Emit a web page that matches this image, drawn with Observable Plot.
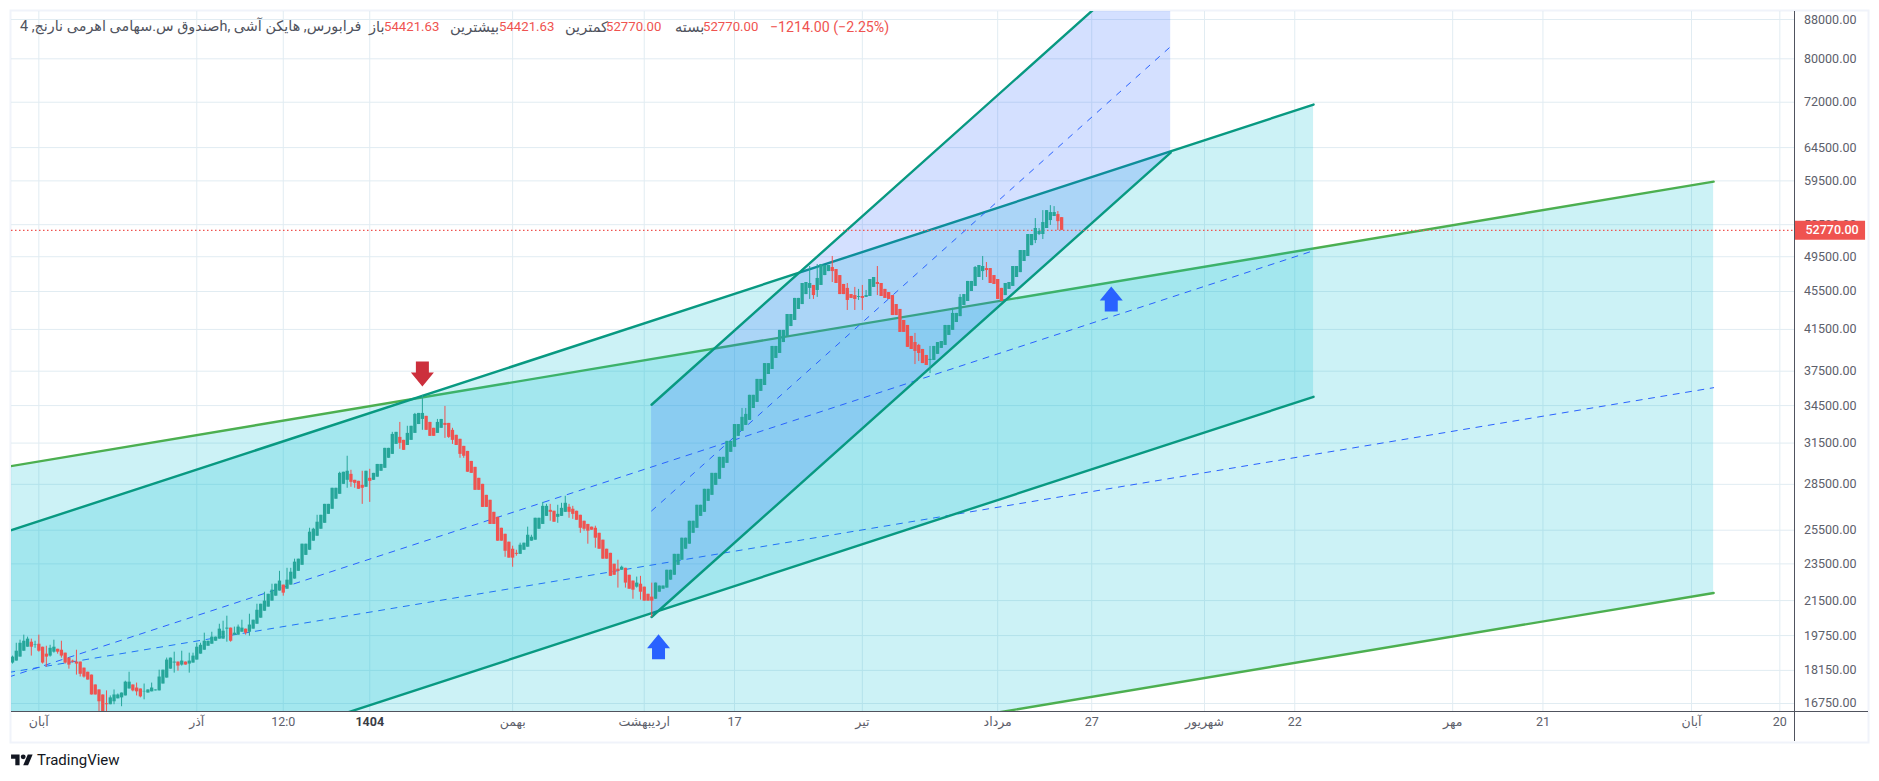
<!DOCTYPE html>
<html lang="fa">
<head>
<meta charset="utf-8">
<title>Chart</title>
<script src="https://cdn.jsdelivr.net/npm/d3@7"></script>
<script src="https://cdn.jsdelivr.net/npm/@observablehq/plot@0.6"></script>
<style>
  html, body { margin: 0; padding: 0; background: #fff; overflow: hidden; }
  #wrap { position: relative; width: 1879px; height: 781px; font-family: Roboto, "Noto Sans", "DejaVu Sans", sans-serif; }
  #legend { position: absolute; left: 0; top: 18px; height: 18px; width: 900px; font-size: 13.2px; line-height: 18px; white-space: nowrap; }
  #legend span { position: absolute; top: 0; }
  .g { color: #50535e; }
  .r { color: #ef5350; }
  .fa { font-size: 14.6px; }
  .title { font-size: 14.4px; }
  .chg { font-size: 14.2px; }
  #brand { position: absolute; left: 11px; top: 750px; height: 20px; display: flex; align-items: center; color: #131722; font-size: 15px; }
  #brand svg { width: 22px; height: 17px; margin-right: 4px; }
</style>
</head>
<body>
<div id="wrap">
  <div id="chart"></div>
  <div id="legend"></div>
  <div id="brand"><svg viewBox="0 0 36 28" fill="#131722"><path d="M14 22H7V11H0V4h14v18zM28 22h-8l7.5-18h8L28 22z"/><circle cx="20" cy="8" r="4"/></svg>TradingView</div>
</div>
<script>
const open = [18475,18565,18745,19015,19200,19435,19290,19340,19200,18880,
18790,18970,19105,19060,18925,18700,18565,18520,18520,18250,
18070,17945,17520,17310,17100,16740,16700,16820,16940,16980,
17060,17350,17520,17390,17350,17230,17180,17230,17270,17270,
17560,17815,18205,18475,18520,18385,18520,18430,18475,18610,
18880,19060,19245,19340,19480,19580,19580,20060,20110,19770,
19770,19910,20060,19910,20060,20300,20600,20950,21160,21470,
21730,22000,22320,22100,22320,22650,23080,23420,23990,24290,
24830,25130,25560,25930,26500,26830,27490,27820,28500,28780,
29200,28780,28710,28430,28300,28920,28780,29000,29420,29630,
30360,30650,31400,31940,31710,31320,31710,32250,32950,33360,
33610,33120,32650,32250,32650,33040,33040,32490,32100,31790,
31250,30870,30130,29700,28920,28500,27750,27420,26630,26310,
25620,25250,24770,24350,24110,24050,24290,24470,24830,24890,
25560,25860,26370,26760,26700,26310,26370,26630,26960,26830,
26700,26440,26060,25860,25690,25620,25310,24890,24350,24110,
23480,23200,23140,23250,22860,22540,22210,22370,22210,21830,
21680,21570,21940,22100,22160,22590,22860,23420,23710,24350,
24650,25310,25620,26370,26630,27350,27750,28430,28850,29630,
29990,30800,31180,32020,32410,32880,33280,34260,34770,35710,
36220,37200,37660,38680,39150,40200,40800,41790,42410,43560,
44080,45160,45840,46170,45610,46170,47290,47750,48220,47990,
47290,46280,45840,45160,45050,44850,44950,44850,44950,45950,
46500,46390,45730,45380,45050,44080,43560,42410,41900,40800,
40200,39920,39530,38960,38490,38490,39060,39630,39920,40900,
41400,42200,42810,43980,44410,45500,46060,47070,47750,48100,
48100,47290,46840,45840,45050,45730,46060,47070,47630,48930,
49530,50850,51480,52240,52240,53010,54040,54570,54830,54421.63];

const close = [18745,19015,19385,19480,19580,19200,19315,19015,18475,18745,
19150,19200,18970,18790,18475,18385,18520,18430,17980,17860,
17730,17100,17100,16820,16380,16700,16980,17100,17100,17180,
17640,17640,17270,17230,17020,17250,17310,17390,17310,17860,
18160,18610,18700,18520,18340,18565,18385,18565,18790,19200,
19290,19480,19480,19675,19675,20060,19960,20110,19480,19865,
20160,20110,19865,20260,20500,21000,21310,21470,21830,22050,
22370,22540,21890,22590,23030,23600,23770,24650,24650,25380,
25560,26000,26440,27150,27150,28230,28230,29270,29350,29420,
28640,28570,28160,28230,29420,28710,29270,29910,29910,31100,
31100,32170,32330,31480,30950,32250,32810,33770,33850,33850,
32490,32020,32020,33120,33360,32880,31940,31710,31320,30650,
30510,29350,29270,28090,28090,26950,26950,25860,25860,24830,
24830,24230,23830,23830,24050,24590,24710,25190,25070,26250,
26250,27020,27020,26630,26000,26500,26890,27220,26630,26500,
26120,25620,25560,25440,25500,25010,24350,23770,23770,22800,
22860,23080,23310,22430,22100,22050,22430,21940,21470,21470,
21470,22430,22270,22270,23140,23140,24050,24050,25010,25010,
26060,26060,27090,27090,28160,28160,29270,29270,30430,30430,
31630,31630,32950,32950,33530,33770,35370,35370,36760,36760,
38200,38200,39820,39820,41400,41400,43030,43030,44740,44740,
46390,46500,46390,45050,46960,48580,48460,48460,47750,46390,
45160,45160,44520,44740,44630,44950,44740,45050,46840,47070,
46280,44950,44740,44630,42920,42920,41200,41200,39730,39530,
39340,39150,38200,38020,38590,39820,40200,40300,41900,41900,
43140,43140,44850,45160,46620,46620,48220,48460,48340,47870,
46390,46280,44630,44410,46390,46500,48340,48340,50250,50250,
52240,52240,53010,52620,53780,55360,55100,55100,53900,52770];

const high = [18790,19385,19530,19770,19675,19580,19480,19770,19200,19245,
19290,19530,19105,19480,18925,18700,18610,19060,18520,18250,
18070,17945,17520,17310,17100,17270,17060,17310,17140,17180,
17680,18070,17520,17600,17350,17560,17310,17600,17310,18160,
18160,18700,18700,18970,18520,19015,18520,18925,18925,19385,
19385,19865,19480,19910,19675,20300,20450,20700,20110,20160,
20260,20500,20060,20800,20500,21310,21310,21940,21830,22370,
22370,23080,22320,23250,23250,23770,23770,24650,24650,25620,
25620,26440,26440,27150,27150,28230,28230,29350,29350,30510,
29490,28780,28710,29420,29420,29560,29270,29910,29910,31100,
31100,32330,32330,33120,31710,32810,32810,33850,33850,35370,
33610,33120,32650,33360,33360,34430,33040,32650,32100,31790,
31250,30870,30130,29700,28920,28500,27750,27420,26630,26310,
25620,25250,24770,24530,24290,24710,24710,25690,25190,26250,
26250,27280,27150,27150,26700,27090,27220,27690,27150,27020,
26700,26440,26060,25860,25690,25750,25310,24890,24350,24110,
23480,23710,23370,23250,22860,22540,22760,22800,22210,21830,
22430,22430,22270,22270,23140,23140,24050,24050,25010,25010,
26060,26060,27090,27090,28160,28160,29270,29270,30430,30430,
31630,31630,32950,32950,34260,34260,35370,35370,36760,36760,
38200,38200,39820,39820,41400,41400,43030,43030,44740,44740,
46390,46500,48340,46170,48580,48580,48460,48460,49530,47990,
47290,46280,46390,45160,45950,45730,46170,45610,46840,47070,
48340,46390,45730,45380,45050,44080,43560,42410,41900,40800,
41100,40020,39530,38960,39820,39820,40200,40300,41900,41900,
43670,43140,45160,45160,46620,46620,48340,48460,49530,48810,
48100,47290,46840,45840,46390,46500,48340,48340,50250,50250,
52240,52240,54300,53010,55360,55360,56030,55900,55230,54421.63];

const low = [18430,18565,18745,19015,19200,18790,19150,18970,18430,18295,
18745,18925,18880,18700,18430,18205,18475,17945,17860,17815,
17730,17100,17100,16300,16200,16300,16700,16700,16940,16620,
17060,17350,17230,17060,16980,16900,17180,17230,17270,17270,
17560,17815,18205,18030,18115,18340,18385,18030,18475,18610,
18880,19060,19245,19340,19480,19580,19580,19435,19435,19770,
19770,19910,19770,19720,20060,20300,20600,20950,21160,21470,
21730,22000,21730,22100,22320,22650,23080,23420,23990,24290,
24830,25130,25560,25930,26500,26830,27490,27820,28500,28230,
28300,28230,28160,27150,28300,27280,28780,29000,29420,29630,
30360,30650,31400,31030,30950,31320,31710,32250,32950,32490,
32490,32020,32020,32250,32650,31860,31860,31400,31320,30360,
30360,29350,29270,28090,28090,26950,26950,25860,25860,24830,
24830,23880,23830,23310,23940,24050,24290,24470,24830,24890,
25560,25860,26370,26060,26000,25930,26370,26630,26250,26180,
26120,25310,25440,24650,25500,24410,24350,23770,23770,22800,
22860,22160,23140,22160,22100,21570,22160,21520,21470,21470,
20650,21570,21940,22100,22160,22590,22860,23420,23710,24350,
24650,25310,25620,26370,26630,27350,27750,28430,28850,29630,
29990,30800,31180,32020,32410,32880,33280,34260,34770,35710,
36220,37200,37660,38680,39150,40200,40800,41790,42410,43560,
44080,45160,44630,44630,44850,46170,47290,47750,46500,46390,
45160,45160,43450,44740,43450,44520,43450,44850,44950,45950,
45050,44950,44740,44630,42920,42920,41200,41200,39730,39530,
38110,38390,38200,38020,37290,38490,39060,39630,39920,40900,
41400,42200,42810,43980,44410,45500,46060,47070,46730,47070,
46390,46280,44630,44410,45050,45730,46060,47070,47630,48930,
49530,50850,51100,52110,51610,53010,53400,54570,52750,52770];

const priceTicks = [88000,80000,72000,64500,59500,53500,49500,45500,41500,37500,34500,31500,28500,25500,23500,21500,19750,18150,16750];
const lastPrice = 52770;

const timeTicks = [7,49,72,95,133,168,192,226,262,287,317,341,383,407,446.5,470];
const timeLabels = ["آبان","آذر","12:0","1404","بهمن","اردیبهشت","17","تیر","مرداد","27","شهریور","22","مهر","21","آبان","20"];

const channelAX = [-1, 452.4];
const channelAUpper = [29760, 59390];
const channelAMid = [18060, 36030];
const channelALower = [10980, 21900];

const channelBX = [-1, 346];
const channelBUpper = [25450, 71590];
const channelBMid = [17860, 50230];
const channelBLower = [12530, 35240];

const channelCX = [169.95, 308];
const channelCUpper = [34570, 106600];
const channelCMid = [26720, 82420];
const channelCLower = [20660, 63720];

const upArrows = [{i: 171.8, p: 19225}, {i: 292.2, p: 44680}];
const downArrows = [{i: 109, p: 37250}];

const GREEN = "#26a69a", RED = "#ef5350", TEAL = "#089981", LIME = "#4caf50", BLUE = "#2962ff";
const INK = "#5d606b";
const xMin = -0.27, xMax = 473.9, xLabelEnd = 492.8;
const idx = d3.range(open.length);

function arrowSymbol(dir) {
  return {
    draw(ctx, size) {
      const k = Math.sqrt(size / Math.PI) / 12.5 * dir;
      const pts = [[0,-12.5],[11.5,1.5],[6.5,1.5],[6.5,12.5],[-6.5,12.5],[-6.5,1.5],[-11.5,1.5]];
      pts.forEach(([x, y], n) => n ? ctx.lineTo(x * k, y * k) : ctx.moveTo(x * k, y * k));
      ctx.closePath();
    }
  };
}

function channel(xs, upper, mid, lower, fill, stroke, midDash) {
  const rows = xs.map((x, n) => ({x, u: upper[n], m: mid[n], l: lower[n]}));
  return [
    Plot.areaY(rows, {x: "x", y1: "l", y2: "u", fill, fillOpacity: 0.2, clip: true}),
    Plot.line(rows, {x: "x", y: "u", stroke, strokeWidth: 2.4, clip: true}),
    Plot.line(rows, {x: "x", y: "l", stroke, strokeWidth: 2.4, clip: true}),
    Plot.line(rows, {x: "x", y: "m", stroke: BLUE, strokeWidth: 1, strokeDasharray: midDash, clip: true})
  ];
}

const up = idx.filter(i => close[i] >= open[i]);
const down = idx.filter(i => close[i] < open[i]);
const candles = (subset, color) => [
  Plot.ruleX(subset, {x: i => i, y1: i => low[i], y2: i => high[i], stroke: color, strokeWidth: 1, clip: true}),
  Plot.ruleX(subset, {x: i => i, y1: i => open[i], y2: i => close[i], stroke: color, strokeWidth: 3.3, clip: true})
];

const chart = Plot.plot({
  width: 1879,
  height: 781,
  marginTop: 11,
  marginBottom: 70,
  marginLeft: 11,
  marginRight: 85,
  style: {fontFamily: 'Roboto, "Noto Sans", "DejaVu Sans", sans-serif', fontSize: "12.5px", background: "#fff"},
  x: {domain: [xMin, xMax], axis: null},
  y: {type: "log", domain: [16428, 89726], axis: null},
  marks: [
    Plot.frame({stroke: "#f0f3fa", strokeWidth: 2, insetTop: -1, insetLeft: -1, insetRight: -74, insetBottom: -31}),
    Plot.ruleY(priceTicks, {stroke: "#e1ecf2", strokeWidth: 1}),
    Plot.ruleX(timeTicks, {stroke: "#e1ecf2", strokeWidth: 1}),
    ...channel(channelAX, channelAUpper, channelAMid, channelALower, "#00bcd4", LIME, "6,6.5"),
    ...channel(channelBX, channelBUpper, channelBMid, channelBLower, "#00bcd4", TEAL, "6,6.5"),
    ...channel(channelCX, channelCUpper, channelCMid, channelCLower, BLUE, TEAL, "5.5,7.5"),
    Plot.ruleY([lastPrice], {stroke: RED, strokeWidth: 1.3, strokeDasharray: "1.5,2.5"}),
    ...candles(up, GREEN),
    ...candles(down, RED),
    Plot.dot(upArrows, {x: "i", y: "p", r: 12.5, symbol: arrowSymbol(1), fill: BLUE, stroke: "none"}),
    Plot.dot(downArrows, {x: "i", y: "p", r: 12.5, symbol: arrowSymbol(-1), fill: "#cc2f3c", stroke: "none"}),
    Plot.axisY(priceTicks, {anchor: "right", tickSize: 0, tickPadding: 9.5, tickFormat: d => d.toFixed(2), label: null, fill: INK}),
    Plot.ruleY([lastPrice], {x1: xMax, x2: xLabelEnd, stroke: RED, strokeWidth: 19}),
    Plot.text([lastPrice], {x: xMax, y: d => d, text: d => d.toFixed(2), dx: 11, textAnchor: "start", fill: "#fff", fontWeight: 500}),
    Plot.ruleY([16428], {stroke: "#50535e", strokeWidth: 1, insetRight: -74}),
    Plot.ruleX([xMax], {stroke: "#50535e", strokeWidth: 1, insetBottom: -30}),
    Plot.text(timeTicks.filter((_, n) => timeLabels[n] !== "1404"), {x: d => d, frameAnchor: "bottom", dy: 14, text: d => timeLabels[timeTicks.indexOf(d)], fill: INK}),
    Plot.text(timeTicks.filter((_, n) => timeLabels[n] === "1404"), {x: d => d, frameAnchor: "bottom", dy: 14, text: d => timeLabels[timeTicks.indexOf(d)], fill: "#3a3d46", fontWeight: 700})
  ]
});
document.getElementById("chart").appendChild(chart);

const legendParts = [
  ["فرابورس, هایکن آشی ,hصندوق س.سهامی اهرمی نارنج, 4", "g title", 20, true],
  ["باز", "g fa", 369],
  ["54421.63", "r", 384],
  ["بیشترین", "g fa", 450],
  ["54421.63", "r", 499],
  ["کمترین", "g fa", 565],
  ["52770.00", "r", 606],
  ["بسته", "g fa", 675],
  ["52770.00", "r", 703],
  ["−1214.00 (−2.25%)", "r chg", 770]
];
const legend = document.getElementById("legend");
for (const [text, cls, left, rtl] of legendParts) {
  const s = document.createElement("span");
  s.textContent = text;
  s.className = cls;
  s.style.left = left + "px";
  if (rtl) s.dir = "rtl";
  legend.appendChild(s);
}
</script>
</body>
</html>
